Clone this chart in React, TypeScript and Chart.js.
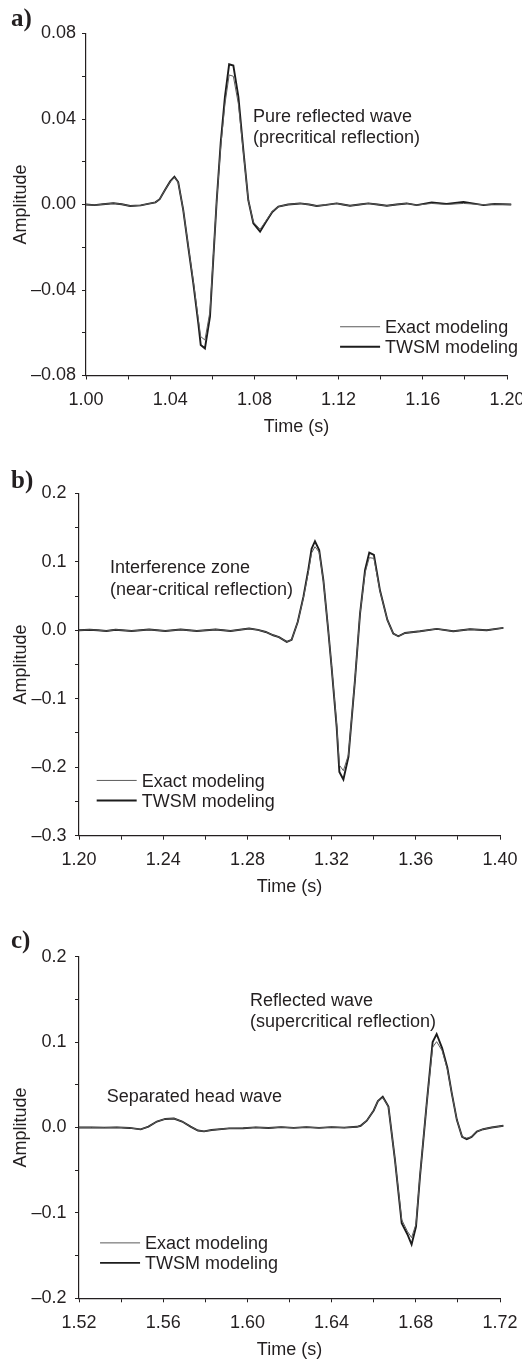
import React, { useEffect, useRef } from "react";
import { Chart, registerables } from "chart.js";

Chart.register(...registerables);

// ---------------- Panel a) : pure reflected wave ----------------
const timeA = [
  1.0, 1.004, 1.008, 1.013, 1.017, 1.021, 1.026, 1.03, 1.033, 1.035, 1.0375, 1.04, 1.042, 1.0438,
  1.0462, 1.0486, 1.051, 1.0534, 1.0545, 1.0565, 1.0589, 1.0605, 1.0621, 1.064, 1.066, 1.068, 1.07,
  1.0724, 1.0748, 1.0771, 1.0795, 1.0827, 1.0856, 1.0885, 1.0914, 1.096, 1.1017, 1.106, 1.1096,
  1.114, 1.1191, 1.122, 1.1254, 1.13, 1.1341, 1.1385, 1.1429, 1.1475, 1.1523, 1.1571, 1.1642,
  1.1713, 1.1793, 1.1888, 1.194, 1.202,
];
const twsmA = [
  0, -0.0003, 0.0001, 0.0006, 0.0001, -0.0007, -0.0004, 0.0004, 0.001, 0.0025, 0.0068, 0.0108, 0.013,
  0.0105, -0.0026, -0.02, -0.037, -0.056, -0.0657, -0.0673, -0.0525, -0.025, 0.002, 0.029, 0.0504,
  0.0656, 0.065, 0.0504, 0.025, 0.002, -0.0088, -0.0127, -0.008, -0.0035, -0.001, 0, 0.0005, 0,
  -0.0007, -0.0002, 0.0005, 0, -0.0006, 0, 0.0005, 0, -0.0006, 0, 0.0005, -0.0003, 0.001, 0.0003,
  0.0012, -0.0003, 0.0002, 0,
];
const exactA = [
  0, -0.0003, 0.0001, 0.0006, 0.0001, -0.0007, -0.0004, 0.0004, 0.001, 0.0025, 0.0068, 0.0106, 0.0127,
  0.0103, -0.0026, -0.0195, -0.036, -0.054, -0.0618, -0.0634, -0.05, -0.024, 0.002, 0.027, 0.047,
  0.0606, 0.06, 0.047, 0.024, 0.002, -0.0082, -0.0116, -0.0075, -0.0033, -0.001, 0, 0.0005, 0,
  -0.0007, -0.0002, 0.0005, 0, -0.0006, 0, 0.0005, 0, -0.0006, 0, 0.0005, -0.0003, 0.0005, 0,
  0.0005, -0.0001, 0.0002, 0,
];

// ---------------- Panel b) : interference zone ----------------
const timeB = [
  1.2, 1.205, 1.209, 1.213, 1.2174, 1.225, 1.2333, 1.241, 1.2483, 1.256, 1.2649, 1.272, 1.2808, 1.285,
  1.2887, 1.2923, 1.295, 1.2987, 1.301, 1.3039, 1.3066, 1.3089, 1.3105, 1.3121, 1.3141, 1.3161,
  1.3184, 1.32, 1.3224, 1.3237, 1.3256, 1.328, 1.3311, 1.3335, 1.3359, 1.3379, 1.3401, 1.343,
  1.3465, 1.3493, 1.3517, 1.3549, 1.362, 1.37, 1.3778, 1.3857, 1.3937, 1.4016,
];
const twsmB = [
  0, 0.0008, 0, -0.001, 0.0008, -0.001, 0.001, -0.001, 0.001, -0.001, 0.0012, -0.001, 0.0025, 0.0005,
  -0.0025, -0.0073, -0.01, -0.017, -0.014, 0.012, 0.0487, 0.0877, 0.119, 0.13, 0.117, 0.073, 0,
  -0.054, -0.141, -0.207, -0.218, -0.185, -0.073, 0.024, 0.088, 0.1135, 0.11, 0.058, 0.015, -0.005,
  -0.0088, -0.004, -0.0015, 0.002, -0.0015, 0.0015, 0, 0.0034,
];
const exactB = [
  0, 0.0008, 0, -0.001, 0.0008, -0.001, 0.001, -0.001, 0.001, -0.001, 0.0012, -0.001, 0.0025, 0.0005,
  -0.0025, -0.0073, -0.01, -0.017, -0.014, 0.012, 0.047, 0.084, 0.113, 0.122, 0.114, 0.072, 0,
  -0.053, -0.137, -0.197, -0.205, -0.182, -0.072, 0.024, 0.084, 0.106, 0.105, 0.057, 0.015, -0.005,
  -0.0088, -0.004, -0.0015, 0.002, -0.0015, 0.0015, 0, 0.0034,
];

// ---------------- Panel c) : separated head wave + reflected wave ----------------
const timeC = [
  1.52, 1.526, 1.532, 1.538, 1.544, 1.5493, 1.553, 1.557, 1.561, 1.5651, 1.569, 1.573, 1.5765, 1.5794,
  1.583, 1.5913, 1.598, 1.604, 1.61, 1.616, 1.622, 1.628, 1.634, 1.64, 1.646, 1.652, 1.6538, 1.6567,
  1.66, 1.662, 1.6643, 1.667, 1.6701, 1.6733, 1.676, 1.678, 1.6801, 1.682, 1.6852, 1.688, 1.6899,
  1.6925, 1.695, 1.6971, 1.6995, 1.702, 1.7042, 1.7065, 1.709, 1.712, 1.716, 1.7216,
];
const twsmC = [
  0, 0, -0.0002, 0.0002, -0.0005, -0.0022, 0.001, 0.007, 0.01, 0.0105, 0.007, 0.001, -0.0035, -0.0045,
  -0.003, -0.001, -0.0008, 0.0002, -0.0006, 0.0004, -0.0004, 0.0004, -0.0004, 0.0004, -0.0002, 0.0008,
  0.002, 0.008, 0.02, 0.031, 0.036, 0.0245, -0.038, -0.112, -0.125, -0.137, -0.116, -0.057, 0.0285,
  0.1, 0.1095, 0.093, 0.07, 0.04, 0.009, -0.011, -0.0136, -0.011, -0.0047, -0.002, 0, 0.002,
];
const exactC = [
  0, 0, -0.0002, 0.0002, -0.0005, -0.0022, 0.001, 0.007, 0.01, 0.0105, 0.007, 0.001, -0.0035, -0.0045,
  -0.003, -0.001, -0.0008, 0.0002, -0.0006, 0.0004, -0.0004, 0.0004, -0.0004, 0.0004, -0.0002, 0.0008,
  0.002, 0.008, 0.02, 0.031, 0.035, 0.0245, -0.038, -0.108, -0.1215, -0.129, -0.113, -0.056, 0.0285,
  0.094, 0.1005, 0.09, 0.068, 0.04, 0.009, -0.011, -0.0125, -0.011, -0.0047, -0.002, 0, 0.002,
];

const seriesLabels = ["Exact modeling", "TWSM modeling"];
const xTitle = "Time (s)";
const yTitle = "Amplitude";

const FONT = "'Liberation Sans', Arial, Helvetica, sans-serif";
const SERIF = "'Liberation Serif', 'Times New Roman', serif";
const INK = "#231f20";
const EXACT_COLOR = "#5a5a5a";
const TWSM_COLOR = "#1c1c1c";

type Note = { t: number; v: number; lines: string[] };
type PanelCfg = {
  label: string;
  labelBaseline: number;
  times: number[];
  exact: number[];
  twsm: number[];
  xMin: number; xMax: number; xStep: number; xDigits: number;
  yMin: number; yMax: number; yStep: number; yDigits: number;
  top: number; height: number; padTop: number; yWidth: number; padRight: number;
  xHeight: number; xTitlePad: number; yTickPad: number;
  notes: Note[];
  legend: { t: number; v: number };
};

const panels: PanelCfg[] = [
  {
    label: "a)", labelBaseline: 26,
    times: timeA, exact: exactA, twsm: twsmA,
    xMin: 1.0, xMax: 1.2, xStep: 0.02, xDigits: 2,
    yMin: -0.08, yMax: 0.08, yStep: 0.02, yDigits: 2,
    top: 0, height: 445, padTop: 33.5, yWidth: 86, padRight: 15,
    xHeight: 69.5, xTitlePad: 6.7, yTickPad: 6,
    notes: [{ t: 1.0793, v: 0.0388, lines: ["Pure reflected wave", "(precritical reflection)"] }],
    legend: { t: 1.1207, v: -0.0572 },
  },
  {
    label: "b)", labelBaseline: 43,
    times: timeB, exact: exactB, twsm: twsmB,
    xMin: 1.2, xMax: 1.4, xStep: 0.02, xDigits: 2,
    yMin: -0.3, yMax: 0.2, yStep: 0.05, yDigits: 1,
    top: 445, height: 455, padTop: 48.3, yWidth: 79, padRight: 22,
    xHeight: 64.3, xTitlePad: 1.8, yTickPad: 8.5,
    notes: [{ t: 1.2147, v: 0.0829, lines: ["Interference zone", "(near-critical reflection)"] }],
    legend: { t: 1.2084, v: -0.2193 },
  },
  {
    label: "c)", labelBaseline: 48,
    times: timeC, exact: exactC, twsm: twsmC,
    xMin: 1.52, xMax: 1.72, xStep: 0.02, xDigits: 2,
    yMin: -0.2, yMax: 0.2, yStep: 0.05, yDigits: 1,
    top: 900, height: 462, padTop: 56.7, yWidth: 79, padRight: 22,
    xHeight: 63.7, xTitlePad: 1.2, yTickPad: 8.5,
    notes: [
      { t: 1.6012, v: 0.1423, lines: ["Reflected wave", "(supercritical reflection)"] },
      { t: 1.5332, v: 0.0304, lines: ["Separated head wave"] },
    ],
    legend: { t: 1.53, v: -0.1351 },
  },
];

function fmt(v: number, digits: number): string {
  const s = Math.abs(v).toFixed(digits);
  return v < -1e-9 ? "\u2013" + s : s;
}

function PanelChart({ p }: { p: PanelCfg }) {
  const ref = useRef<HTMLCanvasElement | null>(null);

  useEffect(() => {
    if (!ref.current) return;
    const toXY = (ys: number[]) => p.times.map((t, i) => ({ x: t, y: ys[i] }));

    const overlay = {
      id: "overlayText",
      afterDraw(chart: any) {
        const { ctx } = chart;
        const xs = chart.scales.x;
        const ysc = chart.scales.y;
        ctx.save();
        ctx.fillStyle = INK;
        ctx.textAlign = "left";
        ctx.textBaseline = "alphabetic";
        ctx.font = `18px ${FONT}`;
        for (const n of p.notes) {
          const x = xs.getPixelForValue(n.t);
          const y = ysc.getPixelForValue(n.v);
          n.lines.forEach((line, i) => ctx.fillText(line, x, y + i * 21.5));
        }
        // legend
        const lx = xs.getPixelForValue(p.legend.t);
        const ly = ysc.getPixelForValue(p.legend.v);
        chart.data.datasets.forEach((ds: any, i: number) => {
          const y = ly + i * 20;
          ctx.beginPath();
          ctx.strokeStyle = ds.borderColor;
          ctx.lineWidth = ds.borderWidth;
          ctx.moveTo(lx, y);
          ctx.lineTo(lx + 40, y);
          ctx.stroke();
          ctx.fillText(ds.label, lx + 45, y + 6.5);
        });
        // panel label
        ctx.font = `bold 25px ${SERIF}`;
        ctx.fillText(p.label, 11, p.labelBaseline);
        ctx.restore();
      },
    };

    const tickFont = { size: 18, family: FONT };
    const chart = new Chart(ref.current, {
      type: "line",
      data: {
        datasets: [
          {
            label: seriesLabels[0],
            data: toXY(p.exact),
            borderColor: EXACT_COLOR,
            borderWidth: 1,
            pointRadius: 0,
            tension: 0,
            fill: false,
            clip: 10,
          },
          {
            label: seriesLabels[1],
            data: toXY(p.twsm),
            borderColor: TWSM_COLOR,
            borderWidth: 1.9,
            pointRadius: 0,
            tension: 0,
            fill: false,
            clip: 10,
          },
        ],
      },
      options: {
        animation: false,
        responsive: false,
        events: [],
        layout: { padding: { top: p.padTop, left: 0, right: p.padRight, bottom: 0 } },
        plugins: { legend: { display: false }, tooltip: { enabled: false } },
        scales: {
          x: {
            type: "linear",
            min: p.xMin,
            max: p.xMax,
            ticks: {
              stepSize: p.xStep,
              autoSkip: false,
              maxRotation: 0,
              minRotation: 0,
              padding: 10,
              color: INK,
              font: tickFont,
              callback: (v: any, i: number) => (i % 2 === 0 ? fmt(Number(v), p.xDigits) : ""),
            },
            grid: { display: true, drawOnChartArea: false, drawTicks: true, tickLength: 4, color: INK, lineWidth: 1 },
            border: { display: true, color: INK, width: 1.2 },
            title: { display: true, text: xTitle, color: INK, font: tickFont, padding: { top: 0, bottom: p.xTitlePad } },
            afterFit: (s: any) => {
              s.height = p.xHeight;
              s.paddingLeft = 0;
              s.paddingRight = 0;
            },
          },
          y: {
            type: "linear",
            min: p.yMin,
            max: p.yMax,
            ticks: {
              stepSize: p.yStep,
              autoSkip: false,
              padding: p.yTickPad,
              color: INK,
              font: tickFont,
              callback: (v: any, i: number) => (i % 2 === 0 ? fmt(Number(v), p.yDigits) : ""),
            },
            grid: { display: true, drawOnChartArea: false, drawTicks: true, tickLength: 4, color: INK, lineWidth: 1 },
            border: { display: true, color: INK, width: 1.2 },
            title: { display: true, text: yTitle, color: INK, font: tickFont, padding: { top: 10, bottom: 0 } },
            afterFit: (s: any) => {
              s.width = p.yWidth;
              s.paddingTop = 0;
              s.paddingBottom = 0;
            },
          },
        },
      } as any,
      plugins: [overlay],
    });
    return () => chart.destroy();
  }, [p]);

  return (
    <canvas
      ref={ref}
      width={522}
      height={p.height}
      style={{ position: "absolute", left: 0, top: p.top, width: 522, height: p.height, display: "block" }}
    />
  );
}

export default function App() {
  return (
    <div style={{ position: "absolute", left: 0, top: 0, width: 522, height: 1362, background: "#fff" }}>
      {panels.map((p) => (
        <PanelChart key={p.label} p={p} />
      ))}
    </div>
  );
}
